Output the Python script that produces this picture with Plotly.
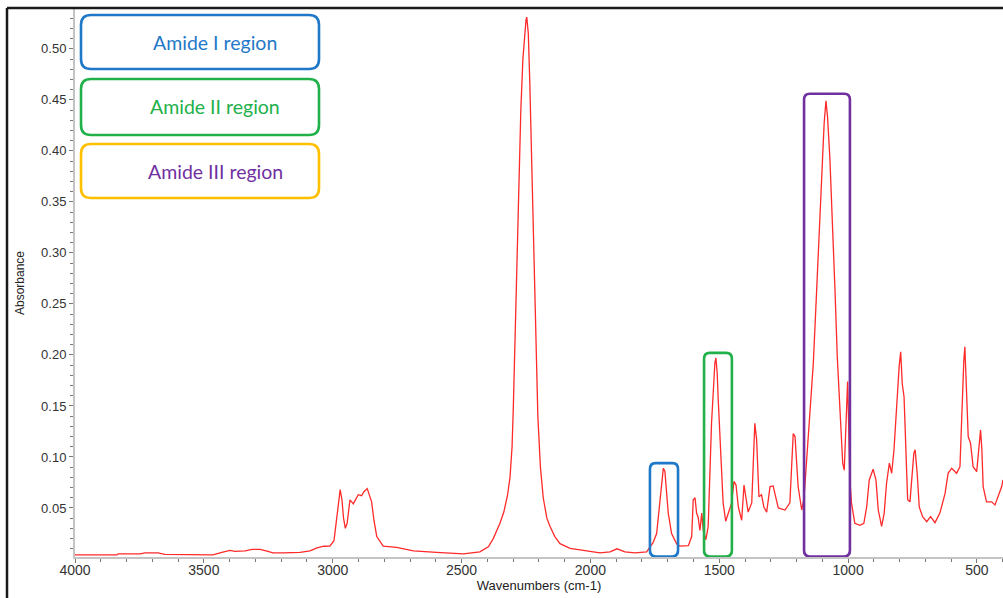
import plotly.graph_objects as go

# ---- spectrum data (wavenumber cm-1, absorbance) ----
wavenumber = [
    4000, 3903, 3837, 3833, 3748, 3728, 3678, 3651, 3554, 3465, 3430, 3399, 3379, 3340,
    3313, 3282, 3251, 3232, 3193, 3127, 3088, 3061, 3034, 3011, 2995, 2983, 2971, 2964,
    2958, 2951, 2944, 2933, 2920, 2901, 2888, 2879, 2866, 2849, 2840, 2829, 2804, 2752,
    2687, 2597, 2493, 2429, 2396, 2377, 2351, 2336, 2322, 2312, 2304, 2299, 2293, 2287,
    2281, 2275, 2270, 2262, 2256, 2250, 2247, 2241, 2235, 2229, 2223, 2217, 2211, 2204,
    2194, 2183, 2169, 2157, 2138, 2118, 2079, 2041, 2002, 1963, 1924, 1897, 1866, 1827,
    1782, 1769, 1757, 1743, 1730, 1724, 1717, 1711, 1704, 1698, 1685, 1665, 1653, 1620,
    1607, 1601, 1594, 1588, 1582, 1575, 1568, 1562, 1552, 1543, 1530, 1523, 1517, 1513,
    1508, 1504, 1497, 1491, 1485, 1475, 1465, 1452, 1443, 1435, 1426, 1413, 1404, 1398,
    1388, 1374, 1362, 1355, 1346, 1336, 1327, 1316, 1303, 1291, 1281, 1271, 1245, 1226,
    1213, 1206, 1194, 1180, 1171, 1161, 1148, 1135, 1122, 1109, 1099, 1093, 1086, 1080,
    1071, 1060, 1051, 1042, 1032, 1021, 1015, 1008, 1002, 998, 993, 987, 974, 954,
    939, 928, 918, 903, 892, 883, 870, 860, 851, 840, 831, 822, 812, 802,
    796, 790, 783, 776, 769, 760, 754, 745, 740, 732, 724, 711, 695, 680,
    663, 644, 624, 612, 598, 579, 566, 559, 551, 547, 540, 534, 525, 515,
    501, 491, 486, 481, 476, 463, 443, 430, 418, 404, 399,
]
absorbance = [
    0.004, 0.004, 0.004, 0.005, 0.005, 0.006, 0.006, 0.0045, 0.004, 0.004, 0.0065, 0.0085, 0.0075, 0.008,
    0.0095, 0.0095, 0.0075, 0.006, 0.006, 0.0065, 0.008, 0.011, 0.0125, 0.0127, 0.018, 0.045, 0.068, 0.058,
    0.040, 0.030, 0.035, 0.058, 0.054, 0.063, 0.062, 0.066, 0.069, 0.056, 0.038, 0.022, 0.0127, 0.0115,
    0.008, 0.0065, 0.005, 0.007, 0.012, 0.020, 0.035, 0.046, 0.062, 0.080, 0.110, 0.150, 0.21, 0.28,
    0.34, 0.39, 0.44, 0.49, 0.515, 0.528, 0.531, 0.515, 0.465, 0.40, 0.33, 0.26, 0.19, 0.14,
    0.090, 0.060, 0.040, 0.032, 0.022, 0.015, 0.0105, 0.009, 0.007, 0.006, 0.007, 0.010, 0.007, 0.006,
    0.007, 0.012, 0.016, 0.025, 0.058, 0.077, 0.089, 0.086, 0.068, 0.045, 0.025, 0.0147, 0.0127, 0.013,
    0.022, 0.058, 0.060, 0.045, 0.041, 0.028, 0.045, 0.028, 0.019, 0.032, 0.133, 0.166, 0.192, 0.197,
    0.182, 0.156, 0.117, 0.077, 0.055, 0.037, 0.045, 0.055, 0.076, 0.0725, 0.051, 0.038, 0.0725, 0.063,
    0.046, 0.055, 0.133, 0.117, 0.061, 0.063, 0.051, 0.046, 0.071, 0.0716, 0.061, 0.050, 0.048, 0.055,
    0.123, 0.120, 0.071, 0.048, 0.060, 0.094, 0.1395, 0.192, 0.264, 0.336, 0.394, 0.427, 0.449, 0.434,
    0.394, 0.329, 0.264, 0.198, 0.149, 0.094, 0.087, 0.133, 0.174, 0.133, 0.0775, 0.055, 0.035, 0.033,
    0.035, 0.051, 0.0775, 0.088, 0.0775, 0.048, 0.032, 0.045, 0.074, 0.094, 0.084, 0.107, 0.149, 0.1885,
    0.203, 0.172, 0.159, 0.100, 0.058, 0.056, 0.0775, 0.1035, 0.107, 0.084, 0.051, 0.0415, 0.0366, 0.0415,
    0.0356, 0.045, 0.064, 0.084, 0.089, 0.084, 0.0905, 0.149, 0.195, 0.208, 0.159, 0.120, 0.1135, 0.0905,
    0.0856, 0.1167, 0.1265, 0.107, 0.071, 0.056, 0.056, 0.053, 0.061, 0.071, 0.0775,
]

# ---- highlighted regions ----
region_names = ["Amide I region", "Amide II region", "Amide III region"]
region_hi = [1769, 1559, 1171]     # wavenumber, left edge
region_lo = [1660, 1451, 993]      # wavenumber, right edge
region_top = [0.094, 0.202, 0.456]  # absorbance
region_colors = ["#1f78c8", "#22b04a", "#7030a0"]
legend_box_colors = ["#1f78c8", "#22b04a", "#ffc000"]
legend_text_colors = ["#1f78c8", "#22b04a", "#7030a0"]

x_ticks = [4000, 3500, 3000, 2500, 2000, 1500, 1000, 500]
y_ticks = [0.05, 0.10, 0.15, 0.20, 0.25, 0.30, 0.35, 0.40, 0.45, 0.50]

X_RANGE = [4000, 399]
Y_RANGE = [0.00196, 0.539]


def rrect(x0, x1, y0, y1, rx, ry):
    return (f"M {x0 + rx},{y0} L {x1 - rx},{y0} Q {x1},{y0} {x1},{y0 + ry} "
            f"L {x1},{y1 - ry} Q {x1},{y1} {x1 - rx},{y1} "
            f"L {x0 + rx},{y1} Q {x0},{y1} {x0},{y1 - ry} "
            f"L {x0},{y0 + ry} Q {x0},{y0} {x0 + rx},{y0} Z")


fig = go.Figure()
fig.add_trace(go.Scatter(
    x=wavenumber, y=absorbance, mode="lines",
    line=dict(color="#ff2a2a", width=1.3), showlegend=False, hoverinfo="skip",
))

shapes = []
# region boxes in data coordinates (rounded)
for lo, hi, top, col in zip(region_lo, region_hi, region_top, region_colors):
    shapes.append(dict(
        type="path", xref="x", yref="y",
        path=rrect(lo, hi, Y_RANGE[0] + 0.0005, top, 22, 0.006),
        line=dict(color=col, width=2.6), fillcolor="rgba(0,0,0,0)", layer="above",
    ))

# legend boxes in paper coordinates
W, H = 928.0, 548.0  # plot area size in px
box_rows = [(15, 69), (79, 135), (144, 198)]
annotations = []
for (ytop, ybot), bcol, tcol, name in zip(box_rows, legend_box_colors, legend_text_colors, region_names):
    px0, px1 = 81, 319
    x0 = (px0 - 75) / W
    x1 = (px1 - 75) / W
    y0 = (557 - ybot) / H
    y1 = (557 - ytop) / H
    shapes.append(dict(
        type="path", xref="paper", yref="paper",
        path=rrect(x0, x1, y0, y1, 10 / W, 10 / H),
        line=dict(color=bcol, width=2.6), fillcolor="white", layer="above",
    ))
    annotations.append(dict(
        xref="paper", yref="paper", x=(215 - 75) / W, y=(557 - (ytop + ybot) / 2) / H,
        text=name, showarrow=False, xanchor="center", yanchor="middle",
        font=dict(family="Lato, Open Sans, sans-serif", size=19.5, color=tcol),
    ))

# outer frame (left and top dark border)
shapes.append(dict(type="line", xref="paper", yref="paper",
                   x0=(7 - 75) / W, x1=(7 - 75) / W, y0=(557 - 600) / H, y1=(557 - 8) / H,
                   line=dict(color="#1a1a1a", width=2.5)))
shapes.append(dict(type="line", xref="paper", yref="paper",
                   x0=(7 - 75) / W, x1=(1005 - 75) / W, y0=(557 - 8) / H, y1=(557 - 8) / H,
                   line=dict(color="#1a1a1a", width=2.5)))

fig.update_layout(
    width=1003, height=598,
    margin=dict(l=75, r=0, t=9, b=41),
    paper_bgcolor="white", plot_bgcolor="white",
    shapes=shapes, annotations=annotations,
    font=dict(family="Liberation Sans, Arial, sans-serif", color="#333333"),
    xaxis=dict(
        range=X_RANGE, tickvals=x_ticks, ticktext=[str(v) for v in x_ticks],
        showgrid=False, zeroline=False,
        showline=True, linecolor="#c4c4c4", linewidth=2,
        ticks="outside", ticklen=4, tickcolor="#777777", tickwidth=1,
        ticklabelstandoff=-5,
        minor=dict(dtick=100, ticks="outside", ticklen=3, tickcolor="#777777", tickwidth=1, tick0=0),
        tickfont=dict(size=14, color="#333333"),
        title=dict(text="Wavenumbers (cm-1)", font=dict(size=13, color="#222222"), standoff=4),
    ),
    yaxis=dict(
        range=Y_RANGE, tickvals=y_ticks, ticktext=[f"{v:.2f}" for v in y_ticks],
        showgrid=False, zeroline=False,
        showline=True, linecolor="#c4c4c4", linewidth=2,
        ticks="outside", ticklen=4, tickcolor="#777777", tickwidth=1,
        minor=dict(dtick=0.01, ticks="outside", ticklen=3, tickcolor="#777777", tickwidth=1, tick0=0),
        tickfont=dict(size=13, color="#333333"),
        title=dict(text="Absorbance", font=dict(size=12, color="#222222"), standoff=14),
    ),
)

fig.write_html("out.html")
